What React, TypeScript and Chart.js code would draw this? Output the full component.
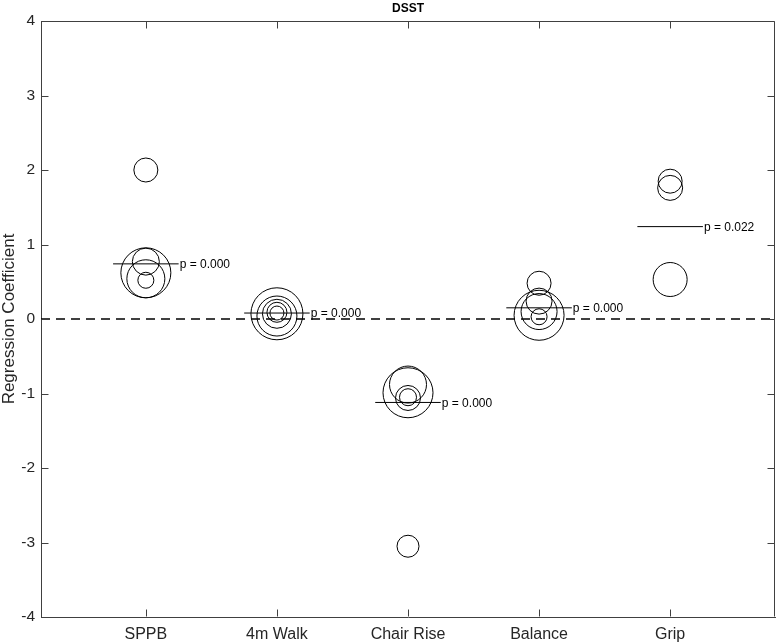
import React, { useEffect, useRef } from "react";
import { Chart, registerables } from "chart.js";

Chart.register(...registerables);

const categories = ["SPPB", "4m Walk", "Chair Rise", "Balance", "Grip"];

// Regression coefficients per study (bubble centres) and bubble radii
const sppbCoef = [2.0, 0.77, 0.62, 0.54, 0.52];
const sppbSize = [12, 13.5, 25, 19, 8];
const walkCoef = [0.07, 0.04, 0.07, 0.09, 0.08];
const walkSize = [26, 20, 14.5, 10, 7];
const chairCoef = [-3.05, -0.99, -0.88, -1.06, -1.05];
const chairSize = [11, 25, 18.5, 12.5, 8.5];
const balanceCoef = [0.48, 0.05, 0.1, 0.24, 0.03];
const balanceSize = [12, 25, 18, 13, 8];
const gripCoef = [1.85, 1.76, 0.53];
const gripSize = [12, 12.5, 17];

// Pooled estimates and p-values
const meanCoef = [0.74, 0.08, -1.12, 0.15, 1.24];
const pValues = ["0.000", "0.000", "0.000", "0.000", "0.022"];

const yTicks = [-4, -3, -2, -1, 0, 1, 2, 3, 4];
const xMin = 0.2;
const xMax = 5.8;
const yMin = -4;
const yMax = 4;
const meanHalfWidth = 0.25;

const FONT = '"Liberation Sans", Arial, Helvetica, sans-serif';
const AXIS_COLOR = "#404040";
const TEXT_COLOR = "#262626";

const groups: [number[], number[]][] = [
  [sppbCoef, sppbSize],
  [walkCoef, walkSize],
  [chairCoef, chairSize],
  [balanceCoef, balanceSize],
  [gripCoef, gripSize],
];

const boxPlugin = {
  id: "matlabBox",
  afterDatasetsDraw(chart: any) {
    const { ctx, chartArea, scales } = chart;
    const { left, right, top, bottom } = chartArea;
    const xs = scales.x;
    const ys = scales.y;
    ctx.save();
    // p-value labels
    ctx.fillStyle = "#000";
    ctx.font = `12px ${FONT}`;
    ctx.textBaseline = "middle";
    ctx.textAlign = "left";
    meanCoef.forEach((m, i) => {
      ctx.fillText(
        "p = " + pValues[i],
        xs.getPixelForValue(i + 1 + meanHalfWidth) + 1,
        ys.getPixelForValue(m) + 1
      );
    });
    // top & right box edges + inward ticks
    ctx.strokeStyle = AXIS_COLOR;
    ctx.lineWidth = 1;
    ctx.beginPath();
    const t = Math.round(top) + 0.5;
    const r = Math.round(right) - 0.5;
    const b = Math.round(bottom) - 0.5;
    const l = Math.round(left) + 0.5;
    ctx.moveTo(l, t);
    ctx.lineTo(r, t);
    ctx.lineTo(r, b);
    const tl = 7;
    categories.forEach((_, i) => {
      const px = Math.round(xs.getPixelForValue(i + 1)) + 0.5;
      ctx.moveTo(px, b);
      ctx.lineTo(px, b - tl);
      ctx.moveTo(px, t);
      ctx.lineTo(px, t + tl);
    });
    yTicks.forEach((v) => {
      const py = Math.round(ys.getPixelForValue(v)) + 0.5;
      ctx.moveTo(l, py);
      ctx.lineTo(l + tl, py);
      ctx.moveTo(r, py);
      ctx.lineTo(r - tl, py);
    });
    ctx.stroke();
    ctx.restore();
  },
};

export default function App() {
  const ref = useRef<HTMLCanvasElement>(null);

  useEffect(() => {
    if (!ref.current) return;
    const bubbleData = groups.flatMap(([coef, size], i) =>
      coef.map((v, j) => ({ x: i + 1, y: v, r: size[j] }))
    );
    const meanLines = meanCoef.map((m, i) => ({
      type: "line" as const,
      data: [
        { x: i + 1 - meanHalfWidth, y: m },
        { x: i + 1 + meanHalfWidth, y: m },
      ],
      borderColor: "#000",
      borderWidth: 1,
      pointRadius: 0,
      fill: false,
    }));
    const chart = new Chart(ref.current, {
      type: "bubble",
      data: {
        datasets: [
          {
            type: "line",
            data: [
              { x: xMin, y: 0 },
              { x: xMax, y: 0 },
            ],
            borderColor: "#000",
            borderWidth: 1.3,
            borderDash: [9, 6],
            pointRadius: 0,
            fill: false,
          } as any,
          {
            type: "bubble",
            data: bubbleData,
            backgroundColor: "rgba(0,0,0,0)",
            borderColor: "#000",
            borderWidth: 1,
          } as any,
          ...meanLines,
        ],
      },
      options: {
        animation: false,
        responsive: false,
        devicePixelRatio: 1,
        events: [],
        layout: { autoPadding: false, padding: { left: 0, right: 1, top: 0, bottom: 0 } },
        plugins: {
          legend: { display: false },
          tooltip: { enabled: false },
          title: {
            display: true,
            fullSize: false,
            text: "DSST",
            color: "#000",
            font: { family: FONT, size: 12, weight: "bold", lineHeight: 1.2 },
            padding: { top: 1, bottom: 5.6 },
          },
        },
        scales: {
          x: {
            type: "linear",
            min: xMin,
            max: xMax,
            afterBuildTicks: (scale: any) => {
              scale.ticks = categories.map((_, i) => ({ value: i + 1 }));
            },
            afterFit: (scale: any) => {
              scale.height = 27;
            },
            ticks: {
              autoSkip: false,
              maxRotation: 0,
              padding: 8,
              color: TEXT_COLOR,
              font: { family: FONT, size: 16 },
              callback: (v: any) => categories[Math.round(Number(v)) - 1] ?? "",
            },
            grid: { display: false, drawTicks: false },
            border: { display: true, color: AXIS_COLOR, width: 1 },
          },
          y: {
            type: "linear",
            min: yMin,
            max: yMax,
            afterBuildTicks: (scale: any) => {
              scale.ticks = yTicks.map((v) => ({ value: v }));
            },
            afterFit: (scale: any) => {
              scale.width = 41;
            },
            ticks: {
              padding: 6,
              color: TEXT_COLOR,
              font: { family: FONT, size: 15.5 },
            },
            title: {
              display: true,
              text: "Regression Coefficient",
              color: TEXT_COLOR,
              font: { family: FONT, size: 17, lineHeight: 1.1 },
              padding: { top: 0, bottom: 0 },
            },
            grid: { display: false, drawTicks: false },
            border: { display: true, color: AXIS_COLOR, width: 1 },
          },
        },
      },
      plugins: [boxPlugin],
    } as any);
    return () => chart.destroy();
  }, []);

  return (
    <div style={{ position: "absolute", left: 0, top: 0, width: 776, height: 644, background: "#fff" }}>
      <canvas ref={ref} width={776} height={644} />
    </div>
  );
}
